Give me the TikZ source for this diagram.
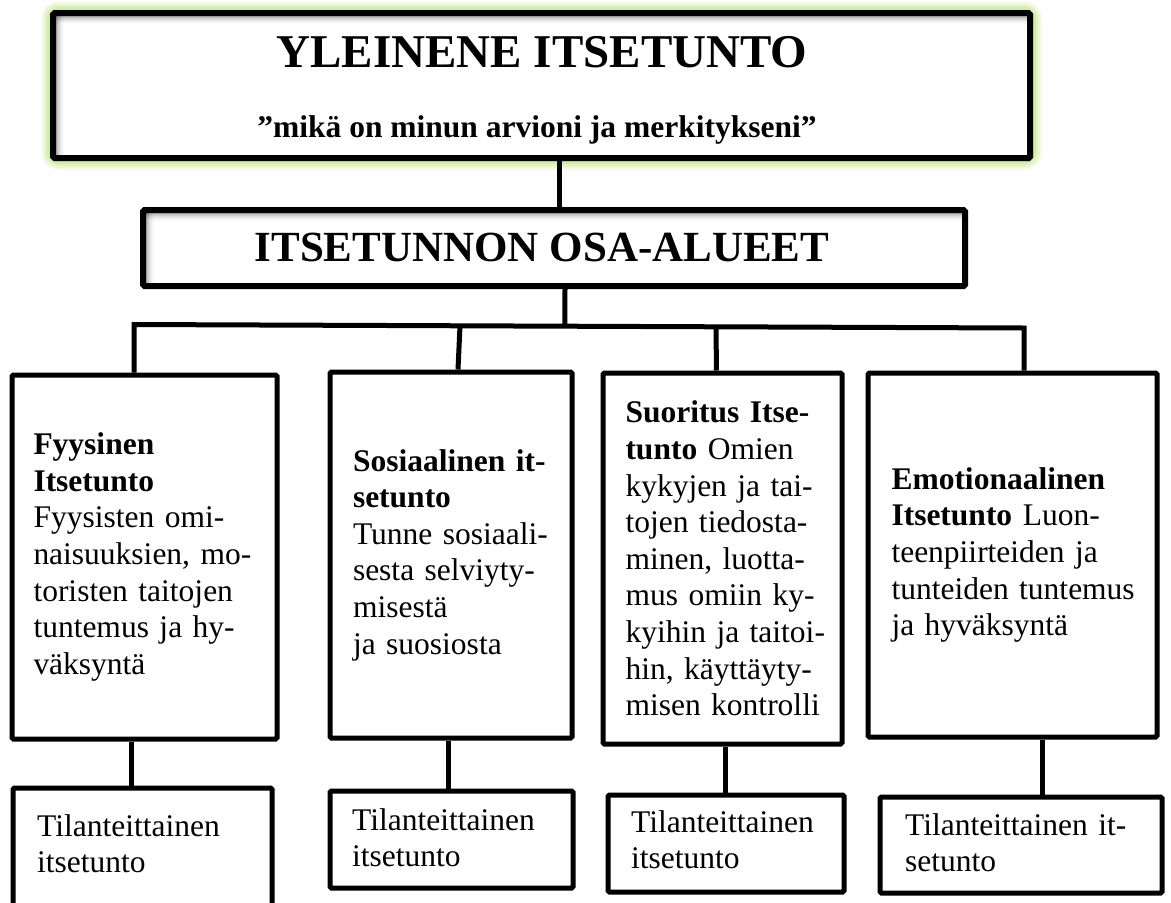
\documentclass[tikz,border=0pt]{standalone}
\usepackage{fontspec}
\setmainfont{Liberation Serif}
\usetikzlibrary{calc}
\definecolor{glowgreen}{RGB}{196,234,140}
\newcommand\jl[1]{\makebox[\linewidth][s]{#1}}
\newcommand\innershadow[2]{%
  \foreach \i in {0,...,11}{%
    \pgfmathsetmacro\op{0.55*(1-\i/12)^2}%
    \draw[black, opacity=\op, line width=1pt]
      ($(#1.north west)+(#2+0.5,#2+0.5+\i)$) -- ($(#1.north east)+(-#2,#2+0.5+\i)$);
    \draw[black, opacity=\op, line width=1pt]
      ($(#1.north west)+(#2+0.5+\i,#2+0.5)$) -- ($(#1.south west)+(#2+0.5+\i,-#2)$);
  }}
\tikzset{
  box/.style={draw=black, line width=5pt, inner sep=0pt, rounded corners=1.5pt, fill=white},
  body/.style={font=\fontsize{31.5}{36.6}\selectfont, align=left},
  conn/.style={line width=5pt},
}
\begin{document}
\begin{tikzpicture}[x=1pt,y=-1pt]
\useasboundingbox (0,0) rectangle (1171,903);
\fill[white] (0,0) rectangle (1171,903);

% glow around the top box
\foreach \w/\o in {24/0.15, 20/0.2, 16/0.3, 12/0.45, 8/0.7}{
  \draw[glowgreen, line width=\w pt, opacity=\o, rounded corners=6pt] (53,13) rectangle (1030,158);
}

% top box
\node[box, line width=6pt, minimum width=977, minimum height=145] (top) at (541.5,85.5) {};
\innershadow{top}{3}
\node[font=\fontsize{47}{50}\selectfont\bfseries, anchor=base, inner sep=0pt] (title) at (542,67) {YLEINENE ITSETUNTO};
\node[font=\fontsize{31.5}{34}\selectfont\bfseries, anchor=base, inner sep=0pt] (sub) at (537,137) {”mikä on minun arvioni ja merkitykseni”};

% second box
\node[box, line width=6pt, minimum width=822, minimum height=76] (mid) at (554,248) {};
\innershadow{mid}{3}
\node[font=\fontsize{43}{46}\selectfont\bfseries, anchor=base, inner sep=0pt] (midtitle) at (542,261) {ITSETUNNON OSA-ALUEET};

% column boxes
\node[box, body, minimum width=265, minimum height=364, text width=222] (box1) at (144.5,557) {%
\textbf{Fyysinen}\\
\textbf{Itsetunto}\\
\jl{Fyysisten omi-}\\
\jl{naisuuksien, mo-}\\
\jl{toristen taitojen}\\
\jl{tuntemus ja hy-}\\
väksyntä};

\node[box, body, minimum width=242, minimum height=366, text width=196] (box2) at (451,555) {%
\jl{\textbf{Sosiaalinen it-}}\\
\textbf{setunto}\\
\jl{Tunne sosiaali-}\\
\jl{sesta selviyty-}\\
misestä\\
ja suosiosta};

\node[box, body, minimum width=239, minimum height=371, text width=194] (box3) at (722.5,558.5) {%
\jl{\textbf{Suoritus Itse-}}\\
\jl{\textbf{tunto} Omien}\\
\jl{kykyjen ja tai-}\\
\jl{tojen tiedosta-}\\
\jl{minen, luotta-}\\
\jl{mus omiin ky-}\\
\jl{kyihin ja taitoi-}\\
\jl{hin, käyttäyty-}\\
\jl{misen kontrolli}};

\node[box, body, minimum width=289, minimum height=364, text width=242] (box4) at (1012.5,555) {%
\textbf{Emotionaalinen}\\
\jl{\textbf{Itsetunto} Luon-}\\
\jl{teenpiirteiden ja}\\
\jl{tunteiden tuntemus}\\
ja hyväksyntä};

% bottom boxes
\node[box, minimum width=259, minimum height=150] (b1) at (142.5,863) {};
\node[box, minimum width=243, minimum height=97] (b2) at (451.5,839.5) {};
\node[box, minimum width=236, minimum height=97] (b3) at (726,843.5) {};
\node[box, minimum width=282, minimum height=96] (b4) at (1021,845) {};

\node[body, anchor=base west, inner sep=0pt, text width=220] (t1) at (37,836) {Tilanteittainen\\itsetunto};
\node[body, anchor=base west, inner sep=0pt, text width=210] (t2) at (352,830) {Tilanteittainen\\itsetunto};
\node[body, anchor=base west, inner sep=0pt, text width=200] (t3) at (631,832) {Tilanteittainen\\itsetunto};
\node[body, anchor=base west, inner sep=0pt, text width=237] (t4) at (905,835) {\jl{Tilanteittainen it-}\\setunto};

% connectors
\draw[conn] ([xshift=17.5pt]top.south) -- ([xshift=5pt]mid.north);
\coordinate (d1) at (134,324.5);
\coordinate (d4) at (1024,328);
\coordinate (d2) at ($(d1)!0.3663!(d4)$);
\coordinate (d3) at ($(d1)!0.6539!(d4)$);
\coordinate (midout) at ([xshift=11pt]mid.south);
\draw[conn] (midout) -- ($(d1)!(midout)!(d4)$);
\draw[conn] (d1 |- box1.north) -- (d1) -- (d4) -- (d4 |- box4.north);
\draw[conn] (d2) -- ([xshift=7pt]box2.north);
\draw[conn] (d3) -- ([xshift=-6pt]box3.north);

\draw[conn] ([xshift=-13pt]box1.south) -- ([xshift=-11pt]b1.north);
\draw[conn] ([xshift=-3pt]box2.south) -- ([xshift=-3.5pt]b2.north);
\draw[conn] ([xshift=2.5pt]box3.south) -- ([xshift=-1pt]b3.north);
\draw[conn] ([xshift=29.5pt]box4.south) -- ([xshift=21pt]b4.north);
\end{tikzpicture}
\end{document}
